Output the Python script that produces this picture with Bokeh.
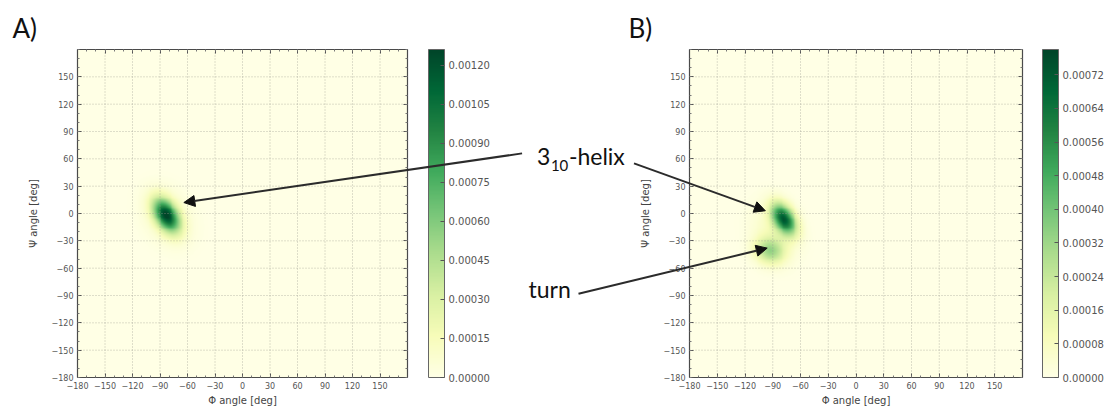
import numpy as np
from bokeh.plotting import figure
from bokeh.models import (LinearColorMapper, ColorBar, FixedTicker, PrintfTickFormatter,
                          Label, Arrow, NormalHead, LinearAxis, Range1d)
from bokeh.layouts import row
from bokeh.embed import file_html
from bokeh.resources import INLINE

# ---------------- data ----------------
angle_ticks = [-180, -150, -120, -90, -60, -30, 0, 30, 60, 90, 120, 150]
angle_tick_labels = ["\u2212180", "\u2212150", "\u2212120", "\u221290", "\u221260", "\u221230",
                     "0", "30", "60", "90", "120", "150"]

# density components (phi, psi centre, widths, tilt, peak)
A_phi = [-83.0, -82.0]
A_psi = [-2.0, -4.0]
A_sig_major = [13.5, 21.0]
A_sig_minor = [8.0, 16.0]
A_tilt = [-60.0, -60.0]
A_peak = [0.00115, 0.00013]
A_max = 0.00126
A_cbar_ticks = [0.0, 0.00015, 0.00030, 0.00045, 0.00060, 0.00075, 0.00090, 0.00105, 0.00120]

B_phi = [-78.0, -93.0, -88.0]
B_psi = [-6.0, -41.0, -20.0]
B_sig_major = [12.5, 11.0, 21.0]
B_sig_minor = [7.5, 9.5, 16.0]
B_tilt = [-60.0, -20.0, -70.0]
B_peak = [0.00069, 0.00030, 0.00008]
B_max = 0.00078
B_cbar_ticks = [0.0, 0.00008, 0.00016, 0.00024, 0.00032, 0.00040, 0.00048, 0.00056, 0.00064, 0.00072]

ylgn9 = ['#ffffe5', '#f7fcb9', '#d9f0a3', '#addd8e', '#78c679', '#41ab5d', '#238443', '#006837', '#004529']

# annotation anchors (data units of each panel)
A_title_xy = (-251, 193)
B_title_xy = (-246, 193)
A_arrow = (305, 66, -64, 12)          # x_start, y_start, x_end, y_end
B_helix_arrow = (-240, 55, -98, 3)
B_turn_arrow = (-300, -88, -96, -38)
B_helix_xy = (-345, 53)
B_turn_xy = (-354, -93)

# ---------------- layout (pixels) ----------------
FIG_H = 411
PLOT_TOP, PLOT_BOTTOM = 49, 377
A_W, A_PLOT_L, A_PLOT_R, A_CBAR_L = 524, 77, 407, 428
B_W, B_PLOT_L, B_PLOT_R, B_CBAR_L = 588, 165, 498, 518


def build_palette(cols, n=256):
    rgb = np.array([[int(c[i:i + 2], 16) for i in (1, 3, 5)] for c in cols], float)
    pos = np.linspace(0, 1, len(cols))
    t = np.linspace(0, 1, n)
    out = []
    for k in range(n):
        r = [np.interp(t[k], pos, rgb[:, j]) for j in range(3)]
        out.append('#%02x%02x%02x' % tuple(int(round(v)) for v in r))
    return out


PALETTE = build_palette(ylgn9)

grid_axis = np.arange(-180, 180, 1.0) + 0.5
GX, GY = np.meshgrid(grid_axis, grid_axis)


def density(phis, psis, smaj, smin, tilts, peaks):
    z = np.zeros_like(GX)
    for cx, cy, a, b, t, pk in zip(phis, psis, smaj, smin, tilts, peaks):
        th = np.deg2rad(t)
        dx, dy = GX - cx, GY - cy
        u = dx * np.cos(th) + dy * np.sin(th)
        v = -dx * np.sin(th) + dy * np.cos(th)
        z += pk * np.exp(-0.5 * ((u / a) ** 2 + (v / b) ** 2))
    return z


FONT = "DejaVu Sans"
ANNOT_FONT = "Lato"
TICK_COLOR = "#555555"


def style_axis(ax, labels=True):
    ax.ticker = FixedTicker(ticks=angle_ticks, minor_ticks=list(range(-180, 181, 10)))
    ax.bounds = (-180, 180)
    ax.axis_line_color = "#4a4a4a"
    ax.axis_line_width = 1.2
    ax.major_tick_in = 4
    ax.major_tick_out = 0
    ax.minor_tick_in = 2
    ax.minor_tick_out = 0
    ax.major_tick_line_color = TICK_COLOR
    ax.minor_tick_line_color = "#777777"
    ax.major_label_text_font = FONT
    ax.major_label_text_font_size = "8px"
    ax.axis_label_text_font = FONT
    ax.axis_label_text_font_size = "10px"
    ax.axis_label_text_font_style = "normal"
    ax.axis_label_text_color = "#444444"
    if labels:
        ax.major_label_overrides = {t: l for t, l in zip(angle_ticks, angle_tick_labels)}
        ax.major_label_text_color = TICK_COLOR
        ax.major_label_standoff = 4
    else:
        ax.major_label_text_color = None


def make_panel(width, plot_l, plot_r, cbar_l, z, zmax, cticks, title, title_xy):
    kx = 360.0 / (plot_r - plot_l)
    ky = 360.0 / (PLOT_BOTTOM - PLOT_TOP)
    xr = Range1d(-180 - plot_l * kx, -180 + (width - plot_l) * kx)
    yr = Range1d(180 - (FIG_H - PLOT_TOP) * ky, 180 + PLOT_TOP * ky)
    p = figure(width=width, height=FIG_H, output_backend="svg", toolbar_location=None,
               x_range=xr, y_range=yr, x_axis_location=None, y_axis_location=None,
               min_border=0)
    p.outline_line_color = None
    p.background_fill_color = "white"
    p.grid.visible = False
    mapper = LinearColorMapper(palette=PALETTE, low=0, high=zmax)
    r = p.image(image=[z], x=-180, y=-180, dw=360, dh=360, color_mapper=mapper)
    r.level = "image"

    n = len(angle_ticks)
    grid_kw = dict(line_color="#9a9a90", line_alpha=0.65, line_dash="1 2", line_width=1)
    p.segment(x0=angle_ticks, y0=[-180] * n, x1=angle_ticks, y1=[180] * n, **grid_kw)
    p.segment(x0=[-180] * n, y0=angle_ticks, x1=[180] * n, y1=angle_ticks, **grid_kw)

    left = LinearAxis(fixed_location=-180, axis_label="\u03a8 angle [deg]")
    style_axis(left)
    left.axis_label_standoff = 10
    bottom = LinearAxis(fixed_location=-180, axis_label="\u03a6 angle [deg]")
    style_axis(bottom)
    bottom.axis_label_standoff = 3
    right = LinearAxis(fixed_location=180)
    style_axis(right, labels=False)
    top = LinearAxis(fixed_location=180)
    style_axis(top, labels=False)
    p.add_layout(left, "left")
    p.add_layout(bottom, "below")
    p.add_layout(right, "right")
    p.add_layout(top, "above")

    cb = ColorBar(color_mapper=mapper, ticker=FixedTicker(ticks=cticks),
                  formatter=PrintfTickFormatter(format="%.5f"),
                  width=16, height=PLOT_BOTTOM - PLOT_TOP, padding=0, margin=0,
                  location=(cbar_l, FIG_H - PLOT_BOTTOM),
                  major_label_text_font=FONT, major_label_text_font_size="10px",
                  major_label_text_color=TICK_COLOR,
                  major_tick_in=4, major_tick_out=0, major_tick_line_color=TICK_COLOR,
                  bar_line_color="#666666", bar_line_width=1,
                  background_fill_alpha=0, border_line_color=None, label_standoff=4)
    p.add_layout(cb, "center")

    p.add_layout(Label(x=title_xy[0], y=title_xy[1], y_offset=10, text=title,
                       text_font=ANNOT_FONT, text_font_size="26px", text_color="#111111",
                       text_baseline="alphabetic"))
    return p


def add_arrow(p, xy):
    p.add_layout(Arrow(x_start=xy[0], y_start=xy[1], x_end=xy[2], y_end=xy[3],
                       line_color="#2b2b2b", line_width=2,
                       end=NormalHead(size=11, fill_color="#111111", line_color="#111111")))


ZA = density(A_phi, A_psi, A_sig_major, A_sig_minor, A_tilt, A_peak)
ZB = density(B_phi, B_psi, B_sig_major, B_sig_minor, B_tilt, B_peak)

pA = make_panel(A_W, A_PLOT_L, A_PLOT_R, A_CBAR_L, ZA, A_max, A_cbar_ticks, "A)", A_title_xy)
add_arrow(pA, A_arrow)

pB = make_panel(B_W, B_PLOT_L, B_PLOT_R, B_CBAR_L, ZB, B_max, B_cbar_ticks, "B)", B_title_xy)
add_arrow(pB, B_helix_arrow)
add_arrow(pB, B_turn_arrow)

lab_kw = dict(text_font=ANNOT_FONT, text_color="#111111", text_baseline="alphabetic")
pB.add_layout(Label(x=B_helix_xy[0], y=B_helix_xy[1], y_offset=9, text="3",
                    text_font_size="23px", **lab_kw))
pB.add_layout(Label(x=B_helix_xy[0], y=B_helix_xy[1], x_offset=14, y_offset=0, text="10",
                    text_font_size="15px", **lab_kw))
pB.add_layout(Label(x=B_helix_xy[0], y=B_helix_xy[1], x_offset=32, y_offset=9, text="-helix",
                    text_font_size="23px", **lab_kw))
pB.add_layout(Label(x=B_turn_xy[0], y=B_turn_xy[1], y_offset=9, text="turn",
                    text_font_size="23px", **lab_kw))

layout = row(pA, pB)
open("out.html", "w").write(file_html(layout, INLINE))
